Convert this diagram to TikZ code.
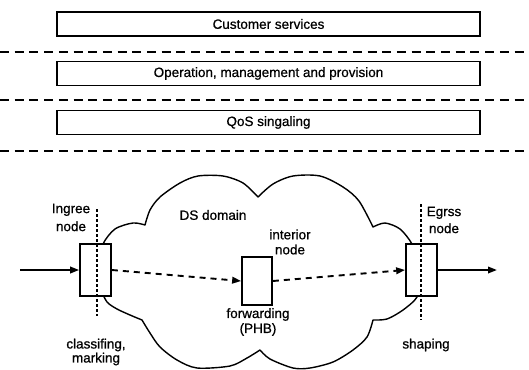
\documentclass[tikz,border=0pt]{standalone}
\usepackage{fontspec}
\setmainfont{Liberation Sans}[FakeBold=0.8]
\usetikzlibrary{arrows.meta}
\tikzset{
  layerbox/.style={draw, line width=1.7pt, minimum width=423pt, minimum height=24pt, inner sep=0pt, font=\fontsize{13.5}{15}\selectfont},
  sepline/.style={line width=1.9pt, dash pattern=on 9pt off 5.7pt},
  nodebox/.style={draw, line width=1.7pt, fill=white, inner sep=0pt},
  cloudline/.style={line width=1.4pt, line join=round},
  cut/.style={line width=2pt, dash pattern=on 3pt off 2pt},
  flow/.style={line width=1.9pt, -{Triangle[length=9pt,width=6.5pt]}},
  dflow/.style={flow, dash pattern=on 6pt off 5pt},
  lbl/.style={align=center, inner sep=0pt}
}
\begin{document}
\begin{tikzpicture}[x=1pt,y=-1pt]
\useasboundingbox (0,0) rectangle (529,369);
% layer boxes
\node[layerbox] (cs) at (268.5,24) {Customer services};
\node[layerbox] (op) at (268.5,73.5) {Operation, management and provision};
\node[layerbox] (qos) at (268.5,122.5) {QoS singaling};
% separators
\draw[sepline] (0,52) -- (529,52);
\draw[sepline] (0,100) -- (529,100);
\draw[sepline] (0,151) -- (529,151);
% cloud
\draw[cloudline]
  plot[smooth] coordinates {(100,262) (103,244) (115,229) (133,223) (145,225)}
  -- plot[smooth] coordinates {(145,225) (150,210) (160,197) (180,183) (198,176) (223,176) (243,183) (258,197)}
  -- plot[smooth] coordinates {(258,197) (273,184) (293,176) (320,176) (343,187) (359,201) (373,227)}
  -- plot[smooth] coordinates {(373,227) (385,223) (400,229) (412,244) (418,262)}
  -- (418,280)
  -- plot[smooth] coordinates {(418,280) (417,297) (403,310) (387,319) (373,320)}
  -- plot[smooth] coordinates {(373,320) (367,337) (353,350) (333,362) (310,368) (293,368) (270,359) (260,350)}
  -- plot[smooth] coordinates {(260,350) (247,358) (230,366) (197,368) (177,360) (160,347) (150,333) (142,320)}
  -- plot[smooth] coordinates {(142,320) (130,315) (117,309) (107,302) (101,290)}
  -- cycle;
% nodes
\node[nodebox, minimum width=31pt, minimum height=52pt] (ing) at (95.5,270) {};
\node[nodebox, minimum width=30pt, minimum height=48pt] (int) at (257,281) {};
\node[nodebox, minimum width=31pt, minimum height=52pt] (egr) at (421.5,270) {};
% cut lines
\coordinate (ingtop) at (96.5,209);
\coordinate (ingbot) at (96.5,316);
\coordinate (egrtop) at (421,204);
\coordinate (egrbot) at (421,320);
\draw[cut] (ingtop) -- (ingbot);
\draw[cut] (egrtop) -- (egrbot);
% flows
\coordinate (src) at (20,270);
\coordinate (dst) at (497,270);
\draw[flow] (src) -- (ing.west);
\draw[dflow] (ing.east) -- (int.west);
\draw[dflow] (int.east) -- (egr.west);
\draw[flow] (egr.east) -- (dst);
% labels
\node[lbl, font=\fontsize{13.5}{18}\selectfont] (lin) at (71,217.5) {Ingree\\node};
\node[lbl, font=\fontsize{13.5}{15}\selectfont] (lds) at (213,215) {DS domain};
\node[lbl, font=\fontsize{13.5}{15}\selectfont] (lint) at (290,242) {interior\\node};
\node[lbl, font=\fontsize{13.5}{15}\selectfont] (lfw) at (258,322) {forwarding\\(PHB)};
\node[lbl, font=\fontsize{13.5}{17}\selectfont] (leg) at (444,220) {Egrss\\node};
\node[lbl, font=\fontsize{13.5}{14}\selectfont] (lcl) at (96,352) {classifing,\\marking};
\node[lbl, font=\fontsize{13.5}{15}\selectfont] (lsh) at (426,345) {shaping};
\end{tikzpicture}
\end{document}
